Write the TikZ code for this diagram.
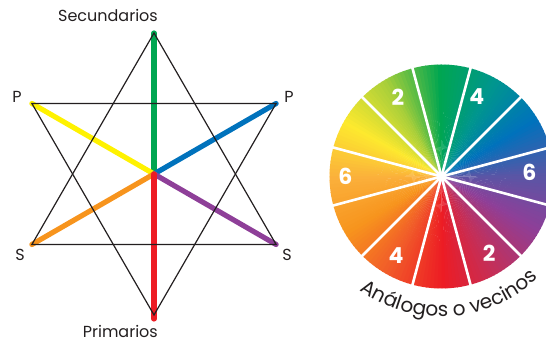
\documentclass[tikz,border=0pt]{standalone}
\usepackage{fontspec}
\setmainfont{Poppins}
\usetikzlibrary{decorations.text}
\definecolor{rgreen}{HTML}{00A651}
\definecolor{ryellow}{HTML}{FFF200}
\definecolor{rblue}{HTML}{0072BC}
\definecolor{rorange}{HTML}{F7941D}
\definecolor{rpurple}{HTML}{8E3F98}
\definecolor{rred}{HTML}{ED1C24}
\definecolor{ink}{HTML}{231F20}
% wheel colours, one per 30 degrees starting at 0
\definecolor{wc0}{HTML}{5856A6}
\definecolor{wc1}{HTML}{0072BC}
\definecolor{wc2}{HTML}{00968E}
\definecolor{wc3}{HTML}{00A651}
\definecolor{wc4}{HTML}{A9CF3A}
\definecolor{wc5}{HTML}{FDE92E}
\definecolor{wc6}{HTML}{FBB03B}
\definecolor{wc7}{HTML}{F7941D}
\definecolor{wc8}{HTML}{F15A29}
\definecolor{wc9}{HTML}{ED1C24}
\definecolor{wc10}{HTML}{C1305C}
\definecolor{wc11}{HTML}{8E3F98}

\begin{document}
\begin{tikzpicture}[x=1pt,y=1pt,
    tri/.style={draw=ink,line width=1.2pt,line join=miter},
    ray/.style={line width=5.2pt,line cap=round},
    lbl/.style={font=\fontsize{16}{16}\selectfont,text=ink,inner sep=0pt},
    num/.style={font=\fontsize{22}{22}\selectfont\bfseries,text=white,inner sep=0pt}
]
\useasboundingbox (0,0) rectangle (546,344);
\clip (0,0) rectangle (546,344);

% hexagram
\begin{scope}[shift={(154,170)}]
\coordinate (O) at (0,0);
\coordinate (T) at (90:141);
\coordinate (B) at (-90:141);
\coordinate (TL) at (150:141);
\coordinate (TR) at (30:141);
\coordinate (BL) at (210:141);
\coordinate (BR) at (-30:141);
\coordinate (Bend) at (-90:145);
\end{scope}

\draw[ray,rgreen] (O) -- (T);
\draw[ray,ryellow] (O) -- (TL);
\draw[ray,rblue] (O) -- (TR);
\draw[ray,rpurple] (O) -- (BR);
\draw[ray,rorange] (O) -- (BL);
\draw[ray,rred] (O) -- (Bend);

\draw[tri] (T) -- (BL) -- (BR) -- cycle;
\draw[tri] (B) -- (TL) -- (TR) -- cycle;

\node[lbl,anchor=east] (sec) at (158,329) {Secundarios};
\node[lbl,anchor=east] (pri) at (158,13) {Primarios};
\node[lbl] (pl) at (17,247) {P};
\node[lbl] (pr) at (289,247) {P};
\node[lbl] (sl) at (20,89) {S};
\node[lbl] (sr) at (287,89) {S};

% colour wheel
\begin{scope}[shift={(441.5,167.5)}]
\foreach \a in {0,2,...,358}{
  \pgfmathtruncatemacro{\i}{\a/30}
  \pgfmathtruncatemacro{\j}{mod(\i+1,12)}
  \pgfmathtruncatemacro{\p}{100-(\a-30*\i)*10/3}
  \fill[wc\i!\p!wc\j] (0,0) -- (\a:112) arc[start angle=\a,end angle=\a+2.4,radius=112] -- cycle;
}
\foreach \a in {15,45,...,345}
  \draw[white,line width=2.6pt] (0,0) -- (\a:113);

\node[num] (a2) at (119:90) {2};
\node[num] (a4) at (66:87) {4};
\node[num] (a6) at (180:96) {6};
\node[num] (b6) at (3:88) {6};
\node[num] (b4) at (240:91) {4};
\node[num] (b2) at (302:90) {2};

\path[decorate,decoration={text along path,text align=center,
    text={|\fontsize{20}{20}\selectfont\color{ink}|Análogos o vecinos}}]
  (209:140) arc[start angle=209,end angle=339,radius=140];
\end{scope}
\end{tikzpicture}
\end{document}
